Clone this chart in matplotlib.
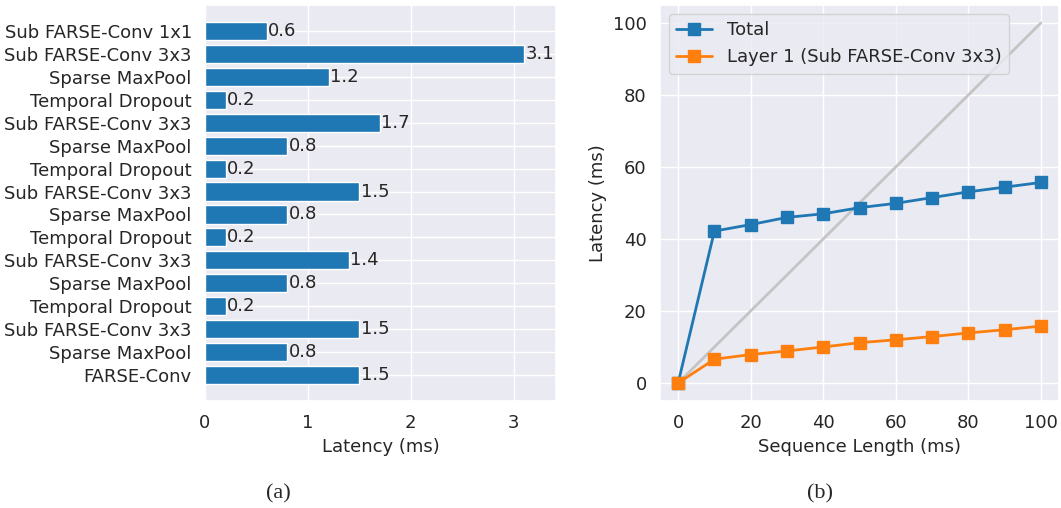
import matplotlib
matplotlib.use("Agg")
import matplotlib.pyplot as plt
import seaborn as sns

sns.set_theme(style="darkgrid")
plt.rcParams["font.family"] = ["DejaVu Sans"]

# per-layer latency, top to bottom as listed
layers = [
    "Sub FARSE-Conv 1x1", "Sub FARSE-Conv 3x3", "Sparse MaxPool", "Temporal Dropout",
    "Sub FARSE-Conv 3x3", "Sparse MaxPool", "Temporal Dropout", "Sub FARSE-Conv 3x3",
    "Sparse MaxPool", "Temporal Dropout", "Sub FARSE-Conv 3x3", "Sparse MaxPool",
    "Temporal Dropout", "Sub FARSE-Conv 3x3", "Sparse MaxPool", "FARSE-Conv",
]
layer_latency = [0.6, 3.1, 1.2, 0.2, 1.7, 0.8, 0.2, 1.5, 0.8, 0.2, 1.4, 0.8, 0.2, 1.5, 0.8, 1.5]

# latency vs. sequence length
seq_len = [0, 10, 20, 30, 40, 50, 60, 70, 80, 90, 100]
total = [0, 42.2, 44.0, 46.0, 47.0, 48.7, 49.9, 51.5, 53.1, 54.4, 55.7]
layer1 = [0, 6.6, 7.9, 8.9, 10.0, 11.2, 12.0, 12.9, 13.9, 14.8, 15.8]
ref_line = [0, 100]

W, H = 1061, 508
fig = plt.figure(figsize=(W / 100, H / 100), dpi=100)
ax1 = fig.add_axes([205 / W, 107 / H, 351 / W, 396 / H])
ax2 = fig.add_axes([660 / W, 107 / H, 399 / W, 396 / H])

fs = 13
ypos = list(range(len(layers)))[::-1]
bars = ax1.barh(ypos, layer_latency, height=0.8, color="#1f77b4", edgecolor="white")
ax1.bar_label(bars, labels=[f"{v:.1f}" for v in layer_latency], padding=1, fontsize=fs,
              color="#262626")
ax1.set_yticks(ypos)
ax1.set_yticklabels(layers, fontsize=fs)
ax1.set_xlim(0, 3.41)
ax1.set_ylim(-1.15, 16.15)
ax1.set_xticks([0, 1, 2, 3])
ax1.tick_params(axis="x", labelsize=fs)
ax1.set_xlabel("Latency (ms)", fontsize=fs)

ax2.plot(ref_line, ref_line, color="silver", lw=2, alpha=0.9, zorder=2)
ax2.plot(seq_len, total, marker="s", ms=8.5, lw=2, color="#1f77b4", label="Total", zorder=3)
ax2.plot(seq_len, layer1, marker="s", ms=8.5, lw=2, color="#ff7f0e",
         label="Layer 1 (Sub FARSE-Conv 3x3)", zorder=3)
ax2.set_xlim(-5, 105)
ax2.set_ylim(-5, 105)
ax2.set_xticks(range(0, 101, 20))
ax2.set_yticks(range(0, 101, 20))
ax2.tick_params(labelsize=fs)
ax2.set_xlabel("Sequence Length (ms)", fontsize=fs)
ax2.set_ylabel("Latency (ms)", fontsize=fs)
ax2.legend(loc="upper left", fontsize=fs)

fig.text(278 / W, 1 - 494 / H, "(a)", ha="center", va="center", fontsize=16,
         family="Liberation Serif")
fig.text(820 / W, 1 - 494 / H, "(b)", ha="center", va="center", fontsize=16,
         family="Liberation Serif")

fig.savefig("out.png", dpi=100)
